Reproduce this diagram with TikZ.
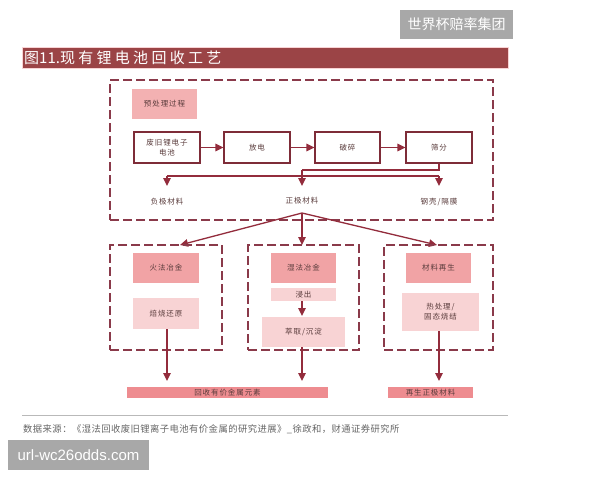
\documentclass[tikz,border=0pt]{standalone}
\usepackage{fontspec}
\setmainfont{Liberation Sans}
\newfontfamily\cjk{Noto Sans CJK SC}
\newfontfamily\cjkwide[LetterSpace=12]{Noto Sans CJK SC}
\newfontfamily\cjktitle[LetterSpace=22]{Noto Sans CJK SC}
\newfontfamily\cjksrc[LetterSpace=5]{Noto Sans CJK SC}
\usetikzlibrary{arrows.meta}
\definecolor{dashc}{HTML}{8A3A4A}
\definecolor{boxc}{HTML}{7E2C38}
\definecolor{arrc}{HTML}{932C3C}
\definecolor{pinkd}{HTML}{F1A3A5}
\definecolor{pinkl}{HTML}{F8D3D4}
\definecolor{barc}{HTML}{EE8C90}
\definecolor{titlec}{HTML}{9B4446}
\definecolor{textc}{HTML}{5A3C3C}
\definecolor{wmc}{HTML}{A8A8A8}
\begin{document}
\begin{tikzpicture}[x=1pt,y=-1pt,
  dbox/.style={draw=dashc, dash pattern=on 9pt off 4pt, line width=1.3pt, inner sep=0pt},
  lab/.style={font=\cjkwide\fontsize{7.5}{10}\selectfont, text=textc, align=center},
  wbox/.style={lab, draw=boxc, line width=1.1pt, fill=white, inner sep=0pt},
  pdark/.style={lab, fill=pinkd, inner sep=0pt},
  plight/.style={lab, fill=pinkl, inner sep=0pt},
  pbar/.style={lab, fill=barc, inner sep=0pt},
  arr/.style={draw=arrc, line width=1.3pt, -{Triangle[length=8pt,width=7.5pt]}},
  ln/.style={draw=arrc, line width=1.3pt}]
\useasboundingbox (0,0) rectangle (600,480);
\fill[white] (0,0) rectangle (600,480);
% watermark top
\node[fill=wmc, text=white, minimum width=113, minimum height=29, inner sep=0pt, font=\cjk\fontsize{14}{16}\selectfont] (wm1) at (456.5,24.5) {世界杯赔率集团};
% title bar
\node[fill=titlec, draw=pinkl, line width=0.6pt, minimum width=486, minimum height=21, inner sep=0pt] (tbar) at (265,57.5) {};
\node[anchor=west, text=white, font=\cjktitle\fontsize{15}{17}\selectfont, inner sep=0pt] (ttl) at (24,57.5) {图{\cjk\fontsize{15}{17}\selectfont 11.}现有锂电池回收工艺};
% top dashed region
\node[dbox, minimum width=383, minimum height=140] (top) at (301.5,150) {};
\node[pdark, fill=pinkd!85, minimum width=65, minimum height=30] (pre) at (164.5,104) {预处理过程};
\node[wbox, minimum width=66, minimum height=31] (b1) at (167,147.5) {废旧锂电子\\电池};
\node[wbox, minimum width=66, minimum height=31] (b2) at (257,147.5) {放电};
\node[wbox, minimum width=65, minimum height=31] (b3) at (347.5,147.5) {破碎};
\node[wbox, minimum width=66, minimum height=31] (b4) at (439,147.5) {筛分};
\draw[arr] (b1) -- (b2);
\draw[arr] (b2) -- (b3);
\draw[arr] (b3) -- (b4);
\node[lab] (neg) at (167,202) {负极材料};
\node[lab] (pos) at (302,201) {正极材料};
\node[lab] (shell) at (439,202) {钢壳/隔膜};
\coordinate (tneg) at (167,186);
\coordinate (tpos) at (302,186);
\coordinate (tshell) at (439,186);
\coordinate (hl) at (167,176);
\coordinate (hr) at (439,176);
\draw[ln] (b4.south) |- (302,170);
\draw[arr] (302,170) -- (tpos);
\draw[ln] (hl) -- (hr);
\draw[arr] (hl) -- (tneg);
\draw[arr] (hr) -- (tshell);
% fan out
\coordinate (fan) at (302,213);
\coordinate (fl) at (180,245);
\coordinate (fm) at (302,245);
\coordinate (fr) at (437,245);
\draw[arr] (fan) -- (fl);
\draw[arr] (fan) -- (fm);
\draw[arr] (fan) -- (fr);
% lower dashed regions
\node[dbox, minimum width=112, minimum height=105] (L) at (166,297.5) {};
\node[dbox, minimum width=111, minimum height=105] (M) at (303.5,297.5) {};
\node[dbox, minimum width=109, minimum height=105] (R) at (438.5,297.5) {};
\node[pdark, minimum width=66, minimum height=30] (huo) at (166,268) {火法冶金};
\node[plight, minimum width=66, minimum height=31] (bei) at (166,313.5) {焙烧还原};
\node[pdark, minimum width=65, minimum height=30] (shi) at (303.5,268) {湿法冶金};
\node[plight, minimum width=65, minimum height=13] (jin) at (303.5,294.5) {浸出};
\node[plight, minimum width=83, minimum height=30] (cui) at (303.5,332) {萃取/沉淀};
\node[pdark, minimum width=65, minimum height=30] (cai) at (438.5,268) {材料再生};
\node[plight, minimum width=77, minimum height=38] (re) at (440.5,312) {热处理/\\固态烧结};
\draw[arr] (302,301) -- (302,316);
% bars
\node[pbar, minimum width=201, minimum height=11] (bar1) at (227.5,392.5) {回收有价金属元素};
\node[pbar, minimum width=85, minimum height=11] (bar2) at (430.5,392.5) {再生正极材料};
\coordinate (a1) at (167,381);
\coordinate (a2) at (302,381);
\coordinate (a3) at (439,381);
\draw[arr] (167,329) -- (a1);
\draw[arr] (cui.south -| a2) -- (a2);
\draw[arr] (439,331) -- (a3);
% footer
\draw[draw=gray!55, line width=1pt] (22,415) -- (508,415);
\node[anchor=west, inner sep=0pt, text=gray!80!black, font=\cjksrc\fontsize{9.3}{11}\selectfont] (src) at (23,429) {数据来源：《湿法回收废旧锂离子电池有价金属的研究进展》\_徐政和，财通证券研究所};
\node[fill=wmc, text=white, minimum width=141, minimum height=30, inner sep=0pt, font=\fontsize{15}{17}\selectfont] (wm2) at (78.5,455) {url-wc26odds.com};
\end{tikzpicture}
\end{document}
